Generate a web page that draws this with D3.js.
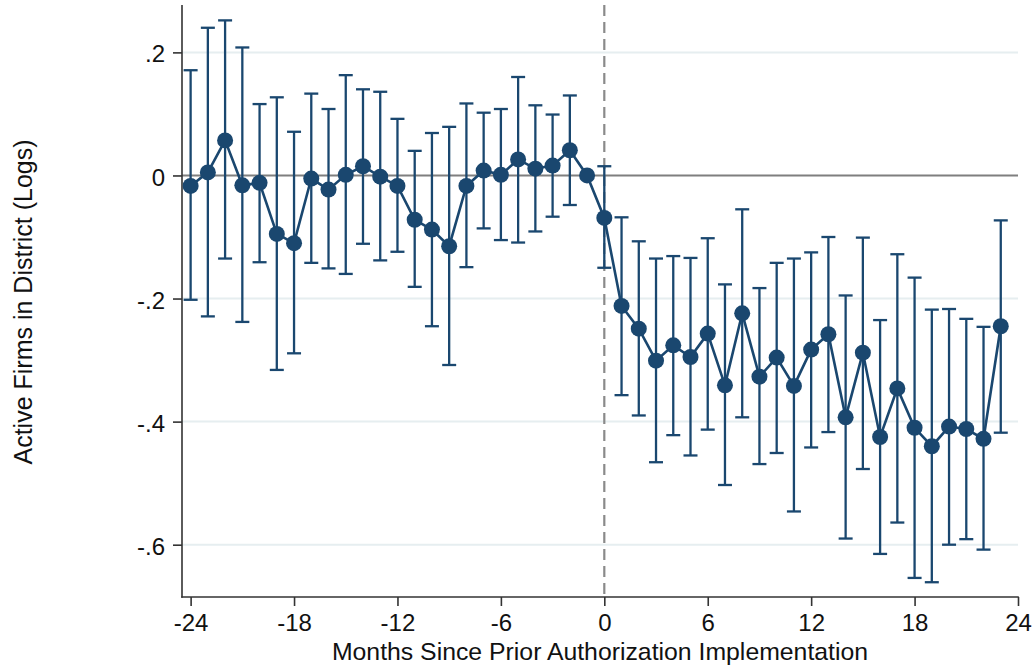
<!DOCTYPE html>
<html>
  <head>
    <meta charset="utf-8">
    <script src="https://d3js.org/d3.v7.min.js"></script>
    <style>
      body { margin: 0; background: #fff; }
      text { font-family: "Liberation Sans", Arial, sans-serif; fill: #111; }
    </style>
  </head>
  <body>
    <div id="svgcontainer"></div>
    <script>
      // event-study data
      var months = [-24, -23, -22, -21, -20, -19, -18, -17, -16, -15, -14, -13, -12, -11, -10, -9,
                    -8, -7, -6, -5, -4, -3, -2, -1, 0, 1, 2, 3, 4, 5, 6, 7,
                    8, 9, 10, 11, 12, 13, 14, 15, 16, 17, 18, 19, 20, 21, 22, 23];
      var estimate = [-0.017, 0.005, 0.057, -0.016, -0.012, -0.095, -0.110, -0.005, -0.023, 0.001, 0.015, -0.002, -0.017, -0.072, -0.088, -0.115,
                      -0.017, 0.008, 0.001, 0.026, 0.011, 0.016, 0.041, 0, -0.069, -0.212, -0.249, -0.301, -0.276, -0.295, -0.257, -0.341,
                      -0.224, -0.327, -0.296, -0.342, -0.283, -0.258, -0.393, -0.288, -0.425, -0.346, -0.410, -0.440, -0.408, -0.412, -0.428, -0.245];
      var ciUpper = [0.171, 0.240, 0.252, 0.208, 0.116, 0.127, 0.071, 0.133, 0.108, 0.163, 0.140, 0.136, 0.092, 0.040, 0.069, 0.079,
                     0.117, 0.102, 0.108, 0.160, 0.114, 0.099, 0.130, null, 0.015, -0.068, -0.107, -0.135, -0.131, -0.134, -0.102, -0.177,
                     -0.055, -0.183, -0.142, -0.135, -0.125, -0.100, -0.195, -0.101, -0.235, -0.128, -0.166, -0.218, -0.217, -0.233, -0.246, -0.073];
      var ciLower = [-0.202, -0.229, -0.135, -0.238, -0.141, -0.316, -0.289, -0.142, -0.151, -0.160, -0.111, -0.138, -0.124, -0.181, -0.245, -0.308,
                     -0.149, -0.086, -0.105, -0.109, -0.091, -0.067, -0.048, null, -0.150, -0.357, -0.390, -0.466, -0.422, -0.455, -0.413, -0.503,
                     -0.393, -0.469, -0.451, -0.546, -0.442, -0.417, -0.590, -0.477, -0.615, -0.564, -0.654, -0.661, -0.600, -0.591, -0.608, -0.418];
      var xTicks = [-24, -18, -12, -6, 0, 6, 12, 18, 24];
      var yTicks = [-0.6, -0.4, -0.2, 0, 0.2];
      var yTickLabels = ['-.6', '-.4', '-.2', '0', '.2'];

      var data = months.map(function(m, i) {
        return {m: m, est: estimate[i], hi: ciUpper[i], lo: ciLower[i]};
      });

      var width = 1034, height = 669;
      var plotL = 182, plotR = 1018, plotT = 5, plotB = 597;
      var navy = '#1a476f';

      var svg = d3.select('#svgcontainer').append('svg')
        .attr('width', width).attr('height', height);

      var x = d3.scaleLinear().domain([-24.5, 24]).range([plotL, plotR]);
      var y = d3.scaleLinear().domain([-0.685, 0.277]).range([plotB, plotT]);

      // light gridlines
      svg.append('g').selectAll('line')
        .data(yTicks.filter(function(d) { return d !== 0; }))
        .join('line')
        .attr('x1', plotL).attr('x2', plotR)
        .attr('y1', function(d) { return y(d); })
        .attr('y2', function(d) { return y(d); })
        .attr('stroke', '#e6eef0')
        .attr('stroke-width', 2);

      // zero reference line
      svg.append('line')
        .attr('x1', plotL).attr('x2', plotR)
        .attr('y1', y(0)).attr('y2', y(0))
        .attr('stroke', '#7f7f7f')
        .attr('stroke-width', 2);

      // dashed line at implementation
      svg.append('line')
        .attr('x1', x(0)).attr('x2', x(0))
        .attr('y1', plotT).attr('y2', plotB)
        .attr('stroke', '#8a8a8a')
        .attr('stroke-width', 2.2)
        .attr('stroke-dasharray', '11,6');

      // axes
      var xAxis = svg.append('g')
        .attr('transform', 'translate(0,' + plotB + ')')
        .call(d3.axisBottom(x).tickValues(xTicks).tickSize(9).tickPadding(8)
          .tickFormat(function(d) { return String(d); }));
      var yAxis = svg.append('g')
        .attr('transform', 'translate(' + plotL + ',0)')
        .call(d3.axisLeft(y).tickValues(yTicks).tickSize(9).tickPadding(8)
          .tickFormat(function(d, i) { return yTickLabels[i]; }));

      [xAxis, yAxis].forEach(function(a) {
        a.select('.domain').remove();
        a.selectAll('.tick line').attr('stroke', '#333').attr('stroke-width', 1.6);
        a.selectAll('.tick text').style('font-size', '24px').attr('fill', '#111');
      });
      yAxis.selectAll('.tick text').attr('dy', '0.4em');

      svg.append('line')
        .attr('x1', plotL).attr('x2', plotL)
        .attr('y1', plotT).attr('y2', plotB + 0.8)
        .attr('stroke', '#333').attr('stroke-width', 1.6);
      svg.append('line')
        .attr('x1', plotL - 0.8).attr('x2', plotR + 0.8)
        .attr('y1', plotB).attr('y2', plotB)
        .attr('stroke', '#333').attr('stroke-width', 1.6);

      // error bars
      var bars = data.filter(function(d) { return d.hi !== null; });
      var eb = svg.append('g').attr('stroke', navy).attr('stroke-width', 2.3);
      eb.selectAll('.stem').data(bars).join('line')
        .attr('x1', function(d) { return x(d.m); })
        .attr('x2', function(d) { return x(d.m); })
        .attr('y1', function(d) { return y(d.hi); })
        .attr('y2', function(d) { return y(d.lo); });
      eb.selectAll('.capHi').data(bars).join('line')
        .attr('x1', function(d) { return x(d.m) - 7; })
        .attr('x2', function(d) { return x(d.m) + 7; })
        .attr('y1', function(d) { return y(d.hi); })
        .attr('y2', function(d) { return y(d.hi); });
      eb.selectAll('.capLo').data(bars).join('line')
        .attr('x1', function(d) { return x(d.m) - 7; })
        .attr('x2', function(d) { return x(d.m) + 7; })
        .attr('y1', function(d) { return y(d.lo); })
        .attr('y2', function(d) { return y(d.lo); });

      // connected estimates
      var lineFunc = d3.line()
        .x(function(d) { return x(d.m); })
        .y(function(d) { return y(d.est); });
      svg.append('path')
        .attr('d', lineFunc(data))
        .attr('fill', 'none')
        .attr('stroke', navy)
        .attr('stroke-width', 2.6);

      svg.append('g').selectAll('circle')
        .data(data).join('circle')
        .attr('cx', function(d) { return x(d.m); })
        .attr('cy', function(d) { return y(d.est); })
        .attr('r', 8)
        .attr('fill', navy);

      // axis titles
      svg.append('text')
        .attr('x', (plotL + plotR) / 2).attr('y', 660)
        .attr('text-anchor', 'middle')
        .style('font-size', '24.8px')
        .text('Months Since Prior Authorization Implementation');
      svg.append('text')
        .attr('transform', 'translate(32,302) rotate(-90)')
        .attr('text-anchor', 'middle')
        .style('font-size', '25px')
        .text('Active Firms in District (Logs)');
    </script>
  </body>
</html>
